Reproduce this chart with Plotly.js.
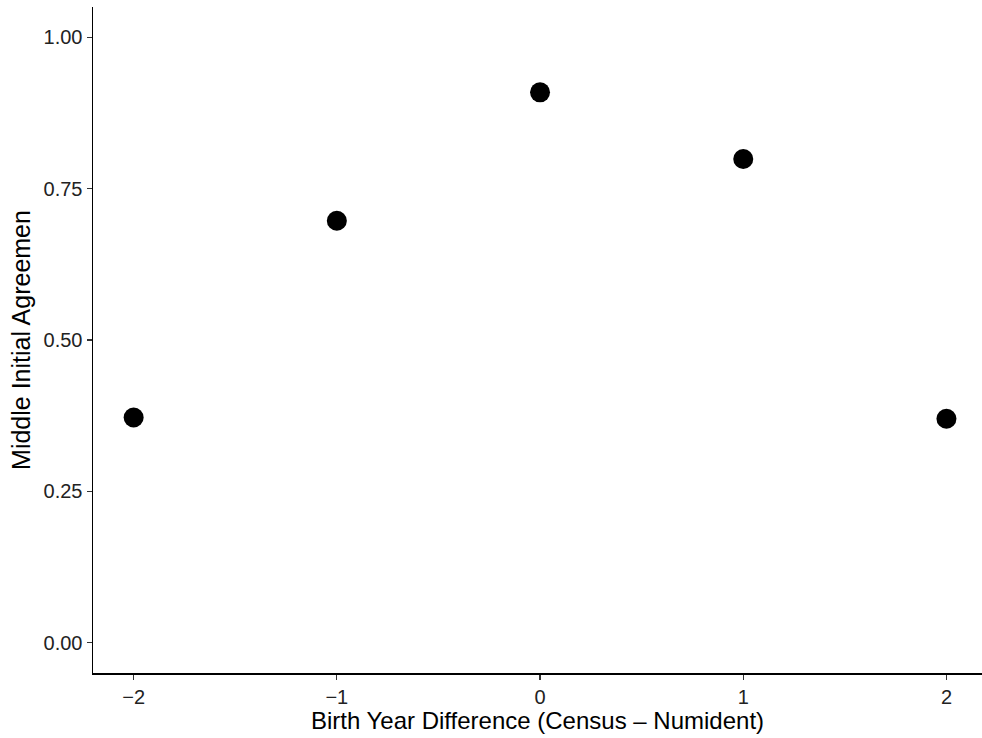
<!DOCTYPE html>
<html><head><meta charset="utf-8">
<script src="https://cdn.plot.ly/plotly-3.0.1.min.js"></script>
<style>body{margin:0;padding:0;background:#fff}#chart{width:982px;height:738px}</style>
</head><body><div id="chart"></div>
<script>
const birthYearDiff = [-2, -1, 0, 1, 2];
const agreement = [0.372, 0.697, 0.909, 0.799, 0.370];
const yTickVals = [0, 0.25, 0.5, 0.75, 1];
const yTickText = ["0.00", "0.25", "0.50", "0.75", "1.00"];
const xTickVals = [-2, -1, 0, 1, 2];

const trace = {
  x: birthYearDiff, y: agreement, type: 'scatter', mode: 'markers',
  marker: {color: '#000', size: 20}, hoverinfo: 'x+y'
};
const fam = 'Liberation Sans, Arial, sans-serif';
const layout = {
  width: 982, height: 738,
  margin: {l: 93, r: 0, t: 7, b: 65},
  paper_bgcolor: '#fff', plot_bgcolor: '#fff',
  showlegend: false,
  font: {family: fam, color: '#000'},
  xaxis: {
    range: [-2.2, 2.175], tickvals: xTickVals, ticks: 'outside', ticklen: 5, tickwidth: 1.3,
    tickcolor: '#333', showline: true, linecolor: '#000', linewidth: 1.5, showgrid: false, zeroline: false,
    tickfont: {size: 20, color: '#222', family: fam},
    title: {text: 'Birth Year Difference (Census \u2013 Numident)', font: {size: 24, color: '#000', family: fam}, standoff: 2}
  },
  yaxis: {
    range: [-0.05, 1.05], tickvals: yTickVals, ticktext: yTickText, ticks: 'outside', ticklen: 5, tickwidth: 1.3,
    tickcolor: '#333', showline: true, linecolor: '#000', linewidth: 1.5, showgrid: false, zeroline: false,
    tickfont: {size: 20, color: '#222', family: fam},
    title: {text: 'Middle Initial Agreemen', font: {size: 25, color: '#000', family: fam}, standoff: 6}
  }
};
Plotly.newPlot('chart', [trace], layout, {displayModeBar: false, staticPlot: true});
</script></body></html>
